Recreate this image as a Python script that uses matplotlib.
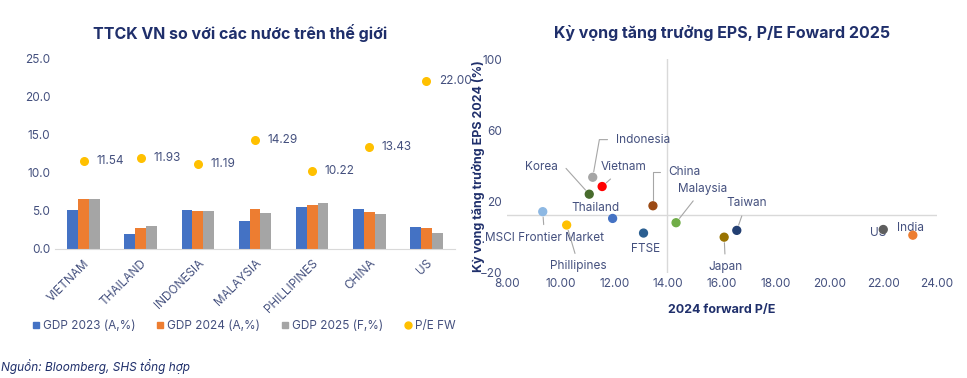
import matplotlib.pyplot as plt
import numpy as np
from matplotlib.lines import Line2D

plt.rcParams['font.family'] = ['Inter', 'DejaVu Sans']

# ---- left chart data
countries = ['VIETNAM', 'THAILAND', 'INDONESIA', 'MALAYSIA', 'PHILLIPINES', 'CHINA', 'US']
gdp_2023 = [5.1, 1.9, 5.1, 3.7, 5.5, 5.2, 2.9]
gdp_2024 = [6.6, 2.7, 5.0, 5.2, 5.8, 4.9, 2.7]
gdp_2025 = [6.5, 3.0, 5.0, 4.7, 6.0, 4.6, 2.1]
pe_fw = [11.54, 11.93, 11.19, 14.29, 10.22, 13.43, 22.00]

# ---- right chart data
markets = ['MSCI Frontier Market', 'Phillipines', 'Indonesia', 'Vietnam', 'Korea', 'Thailand',
           'China', 'FTSE', 'Malaysia', 'Taiwan', 'Japan', 'US', 'India']
pe_2024 = [9.33, 10.22, 11.19, 11.54, 11.06, 11.93, 13.43, 13.08, 14.29, 16.55, 16.08, 22.00, 23.10]
eps_growth = [14.4, 6.9, 33.7, 28.5, 24.2, 10.6, 17.7, 2.4, 8.2, 3.9, 0.1, 4.4, 1.2]

navy = '#1F2F6B'
tick_c = '#44507E'
c_bar = ['#4472C4', '#ED7D31', '#A5A5A5']
c_pe = '#FFC000'

fig = plt.figure(figsize=(9.67, 3.78), dpi=100)

# ================= left: bars + P/E dots
ax = fig.add_axes([0.0569, 0.3413, 0.4137, 0.5045])
x = np.arange(len(countries))
w = 0.19
series = [gdp_2023, gdp_2024, gdp_2025]
names = ['GDP 2023 (A,%)', 'GDP 2024 (A,%)', 'GDP 2025 (F,%)']
for i, (vals, nm) in enumerate(zip(series, names)):
    ax.bar(x + (i - 1) * w, vals, w, color=c_bar[i], label=nm, zorder=2)
ax.scatter(x, pe_fw, s=30, color=c_pe, label='P/E FW', zorder=3)
for xi, v in zip(x, pe_fw):
    ax.annotate('%.2f' % v, (xi, v), xytext=(9, 0), textcoords='offset points',
                ha='left', va='center', fontsize=8.5, color=tick_c)

ax.set_xlim(-0.5, len(countries) - 0.5)
ax.set_ylim(0, 25)
ax.set_yticks(np.arange(0, 25.1, 5))
ax.set_yticklabels(['%.1f' % t for t in np.arange(0, 25.1, 5)])
ax.set_xticks(x)
ax.set_xticklabels(countries, rotation=45, ha='right', rotation_mode='anchor')
ax.tick_params(axis='both', length=0, labelsize=8.5, colors=tick_c)
ax.tick_params(axis='x', pad=6)
for s in ['top', 'right', 'left']:
    ax.spines[s].set_visible(False)
ax.spines['bottom'].set_color('#D9D9D9')
fig.text(240 / 967, 1 - 33 / 378, 'TTCK VN so với các nước trên thế giới', ha='center', va='center',
         fontsize=11.5, fontweight='bold', color=navy)

h2 = [Line2D([], [], marker='s', ls='', color=c, markersize=5) for c in c_bar]
h2.append(Line2D([], [], marker='o', ls='', color=c_pe, markersize=5))
fig.legend(h2, names + ['P/E FW'], loc='center', bbox_to_anchor=(243 / 967, 1 - 326 / 378),
           ncol=4, frameon=False, fontsize=8.5, labelcolor=tick_c, handletextpad=0.1,
           columnspacing=1.6, handlelength=1.0)
fig.text(0.001, 1 - 367 / 378, 'Nguồn: Bloomberg, SHS tổng hợp', ha='left', va='center',
         fontsize=8.5, style='italic', color=navy)

# ================= right: scatter
ax2 = fig.add_axes([0.5243, 0.2778, 0.4447, 0.566])
colors = ['#8DB8E3', '#FFC000', '#A5A5A5', '#FF0000', '#476B2C', '#4472C4',
          '#9B4A14', '#2B5F91', '#70AD47', '#233F72', '#997300', '#5E5E5E', '#ED7D31']
ax2.scatter(pe_2024, eps_growth, s=32, c=colors, zorder=3)
ax2.axvline(13.95, color='#D9D9D9', lw=1, zorder=1)
ax2.axhline(12.7, color='#D9D9D9', lw=1, zorder=1)

# label placements: (x, y, ha, leader connection style or None)
label_pos = {
    'MSCI Frontier Market': (9.4, -0.1, 'center', 'arc3'),
    'Phillipines': (10.67, -16.2, 'center', 'arc3'),
    'Indonesia': (12.05, 54.8, 'left', 'angle,angleA=0,angleB=80,rad=0'),
    'Vietnam': (12.33, 39.2, 'center', 'arc3'),
    'Korea': (9.28, 39.4, 'center', 'angle,angleA=0,angleB=-48,rad=0'),
    'Thailand': (11.29, 16.3, 'center', None),
    'China': (14.0, 36.9, 'left', 'angle,angleA=0,angleB=90,rad=0'),
    'FTSE': (13.17, -6.3, 'center', 'arc3'),
    'Malaysia': (15.28, 27.2, 'center', 'arc3'),
    'Taiwan': (16.9, 19.1, 'center', 'arc3'),
    'Japan': (16.13, -16.6, 'center', 'arc3'),
    'US': (21.8, 2.2, 'center', None),
    'India': (23.03, 5.4, 'center', None),
}
for nm, px, py in zip(markets, pe_2024, eps_growth):
    lx, ly, ha, cs = label_pos[nm]
    ap = None
    if cs is not None:
        ap = dict(arrowstyle='-', color='#A6A6A6', lw=0.8, shrinkA=3, shrinkB=4,
                  connectionstyle=cs)
        if cs.startswith('angle'):
            ap['relpos'] = (0, 0.5) if ha == 'left' else (1, 0.5)
            ap['shrinkA'] = 4
    ax2.annotate(nm, (px, py), xytext=(lx, ly), textcoords='data', ha=ha, va='center',
                 fontsize=8.5, color=tick_c, arrowprops=ap, zorder=2)

ax2.set_xlim(8, 24)
ax2.set_ylim(-20, 100)
ax2.set_xticks(np.arange(8, 24.1, 2))
ax2.set_xticklabels(['%.2f' % t for t in np.arange(8, 24.1, 2)])
ax2.set_yticks([-20, 20, 60, 100])
ax2.tick_params(axis='both', length=0, labelsize=8.5, colors=tick_c)
for s in ax2.spines.values():
    s.set_visible(False)
ax2.set_xlabel('2024 forward P/E', fontsize=9, fontweight='bold', color=navy, labelpad=10)
ax2.set_ylabel('Kỳ vọng tăng trưởng EPS 2024 (%)', fontsize=9, fontweight='bold', color=navy,
               labelpad=-4)
fig.text(722 / 967, 1 - 33 / 378, 'Kỳ vọng tăng trưởng EPS, P/E Foward 2025', ha='center',
         va='center', fontsize=11.5, fontweight='bold', color=navy)

fig.savefig('out.png', dpi=100)
